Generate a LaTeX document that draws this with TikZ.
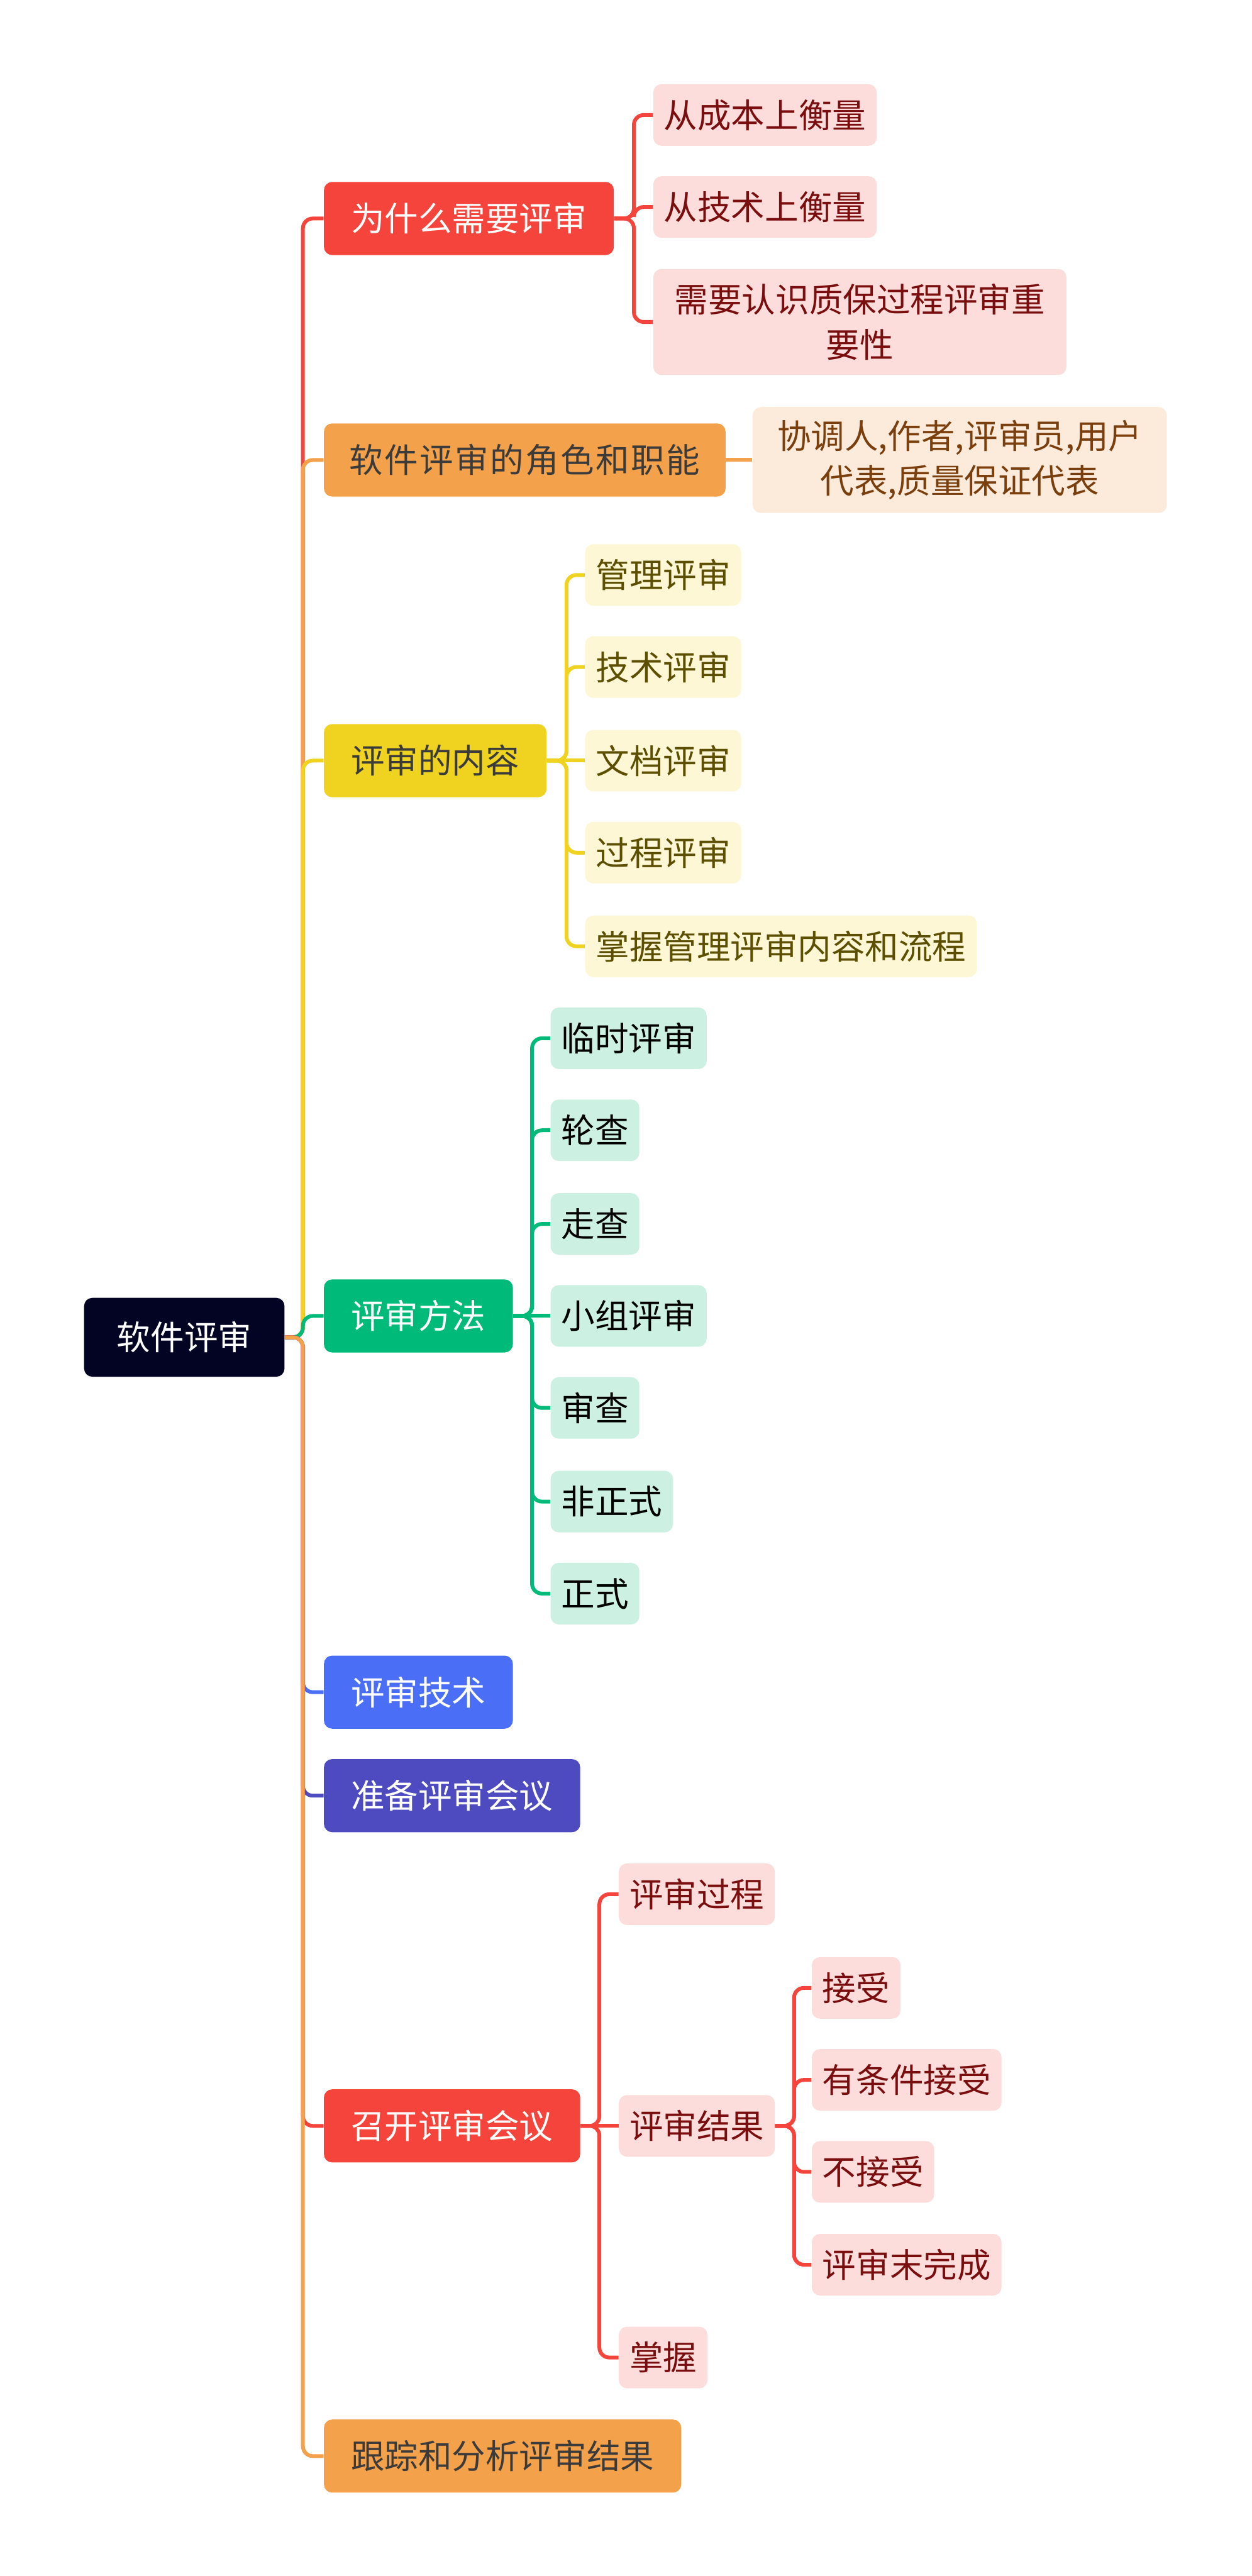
\documentclass[tikz,border=0pt]{standalone}
\usepackage{fontspec}
\setmainfont{Noto Sans CJK SC}

\definecolor{rootnavy}{HTML}{030324}
\definecolor{redmain}{HTML}{F5443B}
\definecolor{orangemain}{HTML}{F4A14B}
\definecolor{yellowmain}{HTML}{EFD320}
\definecolor{greenmain}{HTML}{00BA7A}
\definecolor{bluemain}{HTML}{4A6EF5}
\definecolor{purplemain}{HTML}{4E4BC0}
\definecolor{redleaf}{HTML}{FDDCDC}
\definecolor{redtext}{HTML}{7A0E0E}
\definecolor{peachleaf}{HTML}{FCEBDB}
\definecolor{peachtext}{HTML}{7B3F0E}
\definecolor{yellowleaf}{HTML}{FDF7D5}
\definecolor{yellowtext}{HTML}{5C4F00}
\definecolor{greenleaf}{HTML}{CCF1E2}
\definecolor{darktext}{HTML}{3B3B3B}

\tikzset{
  box/.style={rounded corners=5pt, anchor=west, inner ysep=0pt, align=center,
    font=\fontsize{20.5}{27.5}\selectfont},
  main/.style={box, fill=#1, minimum height=44.5pt, inner xsep=16.5pt},
  leaf/.style={box, fill=#1, minimum height=37.5pt, inner xsep=6.5pt},
  link/.style={draw=#1, line width=2.3pt, rounded corners=6pt},
}

\begin{document}
\begin{tikzpicture}[x=1pt, y=-1pt]
  \useasboundingbox (0,0) rectangle (762,1568);

  % root and first level
  \node[main=rootnavy, text=white, inner xsep=20pt, minimum height=48pt] (root) at (51,814) {软件评审};
  \node[main=redmain, text=white] (why) at (197,133) {为什么需要评审};
  \node[main=orangemain, text=darktext, inner xsep=15.5pt] (roles) at (197,280) {\addfontfeature{LetterSpace=4.6}软件评审的角色和职能};
  \node[main=yellowmain, text=darktext] (content) at (197,463) {评审的内容};
  \node[main=greenmain, text=white] (method) at (197,801) {评审方法};
  \node[main=bluemain, text=white] (tech) at (197,1030) {评审技术};
  \node[main=purplemain, text=white] (prep) at (197,1093) {准备评审会议};
  \node[main=redmain, text=white] (meet) at (197,1294) {召开评审会议};
  \node[main=orangemain, text=darktext] (track) at (197,1495) {跟踪和分析评审结果};

  % why
  \node[leaf=redleaf, text=redtext] (cost) at (397.5,70) {从成本上衡量};
  \node[leaf=redleaf, text=redtext] (techm) at (397.5,126) {从技术上衡量};
  \node[leaf=redleaf, text=redtext, minimum height=64.5pt, inner xsep=13pt] (qa) at (397.5,196) {需要认识质保过程评审重\\要性};

  % roles
  \node[leaf=peachleaf, text=peachtext, minimum height=64.5pt, inner xsep=15pt] (people) at (458,280) {协调人,作者,评审员,用户\\代表,质量保证代表};

  % content
  \node[leaf=yellowleaf, text=yellowtext] (mgmt) at (356,350) {管理评审};
  \node[leaf=yellowleaf, text=yellowtext] (techr) at (356,406) {技术评审};
  \node[leaf=yellowleaf, text=yellowtext] (docr) at (356,463) {文档评审};
  \node[leaf=yellowleaf, text=yellowtext] (procr) at (356,519) {过程评审};
  \node[leaf=yellowleaf, text=yellowtext] (grasp) at (356,576) {掌握管理评审内容和流程};

  % method
  \node[leaf=greenleaf, text=black] (adhoc) at (335,632) {临时评审};
  \node[leaf=greenleaf, text=black] (rotate) at (335,688) {轮查};
  \node[leaf=greenleaf, text=black] (walk) at (335,745) {走查};
  \node[leaf=greenleaf, text=black] (group) at (335,801) {小组评审};
  \node[leaf=greenleaf, text=black] (inspect) at (335,857) {审查};
  \node[leaf=greenleaf, text=black] (informal) at (335,914) {非正式};
  \node[leaf=greenleaf, text=black] (formal) at (335,970) {正式};

  % meeting
  \node[leaf=redleaf, text=redtext] (process) at (376.5,1153) {评审过程};
  \node[leaf=redleaf, text=redtext] (result) at (376.5,1294) {评审结果};
  \node[leaf=redleaf, text=redtext] (master) at (376.5,1435) {掌握};
  \node[leaf=redleaf, text=redtext] (accept) at (494,1210) {接受};
  \node[leaf=redleaf, text=redtext] (cond) at (494,1266) {有条件接受};
  \node[leaf=redleaf, text=redtext] (reject) at (494,1322) {不接受};
  \node[leaf=redleaf, text=redtext] (undone) at (494,1378.5) {评审末完成};

  % connectors, later ones lie over earlier ones on the spine
  \draw[link=redmain] (root.east) -- ++(11,0) |- (why.west);
  \draw[link=orangemain] (root.east) -- ++(11,0) |- (roles.west);
  \draw[link=yellowmain] (root.east) -- ++(11,0) |- (content.west);
  \draw[link=greenmain] (root.east) -- ++(11,0) |- (method.west);
  \draw[link=bluemain] (root.east) -- ++(11,0) |- (tech.west);
  \draw[link=purplemain] (root.east) -- ++(11,0) |- (prep.west);
  \draw[link=redmain] (root.east) -- ++(11,0) |- (meet.west);
  \draw[link=orangemain] (root.east) -- ++(11,0) |- (track.west);

  \foreach \c in {cost, techm, qa}
    \draw[link=redmain] (why.east) -- ++(12,0) |- (\c.west);
  \draw[link=orangemain] (roles.east) -- (people.west);
  \foreach \c in {mgmt, techr, procr, grasp}
    \draw[link=yellowmain] (content.east) -- ++(12,0) |- (\c.west);
  \draw[link=yellowmain] (content.east) -- (docr.west);
  \foreach \c in {adhoc, rotate, walk, inspect, informal, formal}
    \draw[link=greenmain] (method.east) -- ++(11.5,0) |- (\c.west);
  \draw[link=greenmain] (method.east) -- (group.west);
  \foreach \c in {process, master}
    \draw[link=redmain] (meet.east) -- ++(11.5,0) |- (\c.west);
  \draw[link=redmain] (meet.east) -- (result.west);
  \foreach \c in {accept, cond, reject, undone}
    \draw[link=redmain] (result.east) -- ++(11.5,0) |- (\c.west);
\end{tikzpicture}
\end{document}
